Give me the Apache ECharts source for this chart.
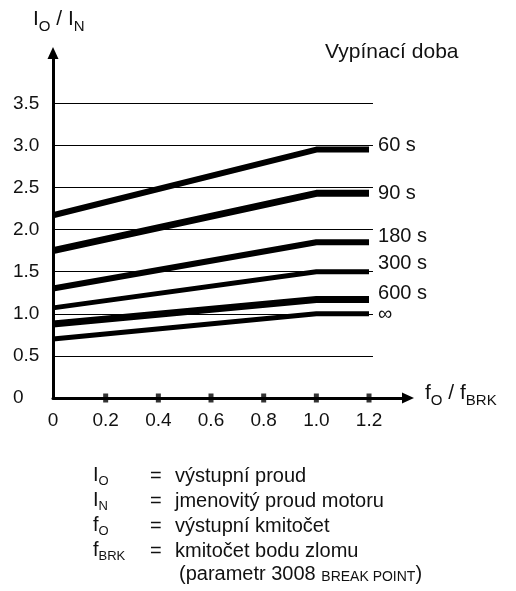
<!DOCTYPE html>
<html><head><meta charset="utf-8">
<script src="https://cdn.jsdelivr.net/npm/echarts@6/dist/echarts.min.js"></script>
<style>html,body{margin:0;padding:0;background:#fff}#c{width:516px;height:591px}</style>
</head><body><div id="c"></div>
<script>
// ---- data ----
const xValues = [0, 1.0, 1.2];
const seriesNames = ['60 s', '90 s', '180 s', '300 s', '600 s', '∞'];
const s60  = [2.17, 2.95, 2.95];
const s90  = [1.75, 2.43, 2.43];
const s180 = [1.30, 1.85, 1.85];
const s300 = [1.07, 1.50, 1.50];
const s600 = [0.88, 1.17, 1.17];
const sInf = [0.70, 1.00, 1.00];
const yTickLabels = ['0', '0.5', '1.0', '1.5', '2.0', '2.5', '3.0', '3.5'];
const xTickLabels = ['0', '0.2', '0.4', '0.6', '0.8', '1.0', '1.2'];
const gridLevels = [0.5, 1.0, 1.5, 2.0, 2.5, 3.0, 3.5];
const xTickMarks = [0.2, 0.4, 0.6, 0.8, 1.0, 1.2];
const gridEndX = 1.215;

// ---- styles ----
const FONT = "'Liberation Sans', Arial, sans-serif";
const allSeries = [s60, s90, s180, s300, s600, sInf];
const labelDy = [-4, 0, -6, -8, -6, 1];
const lineW = [6, 7, 6, 5, 7, 5];

const chart = echarts.init(document.getElementById('c'), null, {renderer: 'canvas'});

function tickFmt(labels, step) {
  return function (v) {
    const i = Math.round(v / step);
    if (Math.abs(v - i * step) > 1e-6 || i >= labels.length) return '';
    return labels[i];
  };
}

const series = [];
series.push({
  type: 'line', data: [], z: 1, silent: true,
  markLine: {
    silent: true, symbol: ['none', 'none'], animation: false,
    label: {show: false},
    lineStyle: {color: '#000', width: 1, type: 'solid'},
    data: gridLevels.map(v => [{coord: [0, v]}, {coord: [gridEndX, v]}])
  }
});
allSeries.forEach((arr, k) => {
  series.push({
    name: seriesNames[k], type: 'line', z: 3,
    data: xValues.map((x, i) => [x, arr[i]]),
    symbol: 'none', lineStyle: {color: '#000', width: lineW[k]},
    endLabel: {
      show: true, formatter: seriesNames[k], color: '#111',
      fontFamily: FONT, fontSize: 20, distance: 9, offset: [0, labelDy[k]]
    }
  });
});
series.push({
  type: 'scatter', z: 5, silent: true,
  data: xTickMarks.map(x => [x, 0]),
  symbol: 'rect', symbolSize: [5, 9], itemStyle: {color: '#000'}
});

const richMain = {fontFamily: FONT, fontSize: 21, lineHeight: 24, verticalAlign: 'top', fill: '#111'};
const richSub = {fontFamily: FONT, fontSize: 15, lineHeight: 15, padding: [10, 0, 0, 0], verticalAlign: 'top', fill: '#111'};
const legMain = {fontFamily: FONT, fontSize: 20, lineHeight: 22, verticalAlign: 'top', fill: '#111'};
const legSub = {fontFamily: FONT, fontSize: 13, lineHeight: 13, padding: [10, 0, 0, 0], verticalAlign: 'top', fill: '#111'};
const legSC = {fontFamily: FONT, fontSize: 14, lineHeight: 14, padding: [6, 0, 0, 0], verticalAlign: 'top', fill: '#111'};

function plain(x, y, text, size) {
  return {type: 'text', x: x, y: y, silent: true,
    style: {text: text, fill: '#111', font: (size || 20) + 'px ' + FONT, verticalAlign: 'middle', align: 'left'}};
}
function rich(x, y, text, r) {
  return {type: 'text', x: x, y: y, silent: true,
    style: {text: text, rich: r, verticalAlign: 'top', align: 'left'}};
}
const legR = {m: legMain, s: legSub, sc: legSC};
const legendRows = [476, 501, 526, 551, 575];

const graphic = [
  rich(33, 9, '{m|I}{s|O}{m| / I}{s|N}', {m: richMain, s: richSub}),
  rich(425, 383, '{m|f}{s|O}{m| / f}{s|BRK}', {m: richMain, s: richSub}),
  plain(325, 52, 'Vypínací doba', 21),
  rich(93, legendRows[0] - 11, '{m|I}{s|O}', legR),
  rich(93, legendRows[1] - 11, '{m|I}{s|N}', legR),
  rich(93, legendRows[2] - 11, '{m|f}{s|O}', legR),
  rich(93, legendRows[3] - 11, '{m|f}{s|BRK}', legR),
  plain(150, legendRows[0], '='),
  plain(150, legendRows[1], '='),
  plain(150, legendRows[2], '='),
  plain(150, legendRows[3], '='),
  plain(175, legendRows[0], 'výstupní proud'),
  plain(175, legendRows[1], 'jmenovitý proud motoru'),
  plain(175, legendRows[2], 'výstupní kmitočet'),
  plain(175, legendRows[3], 'kmitočet bodu zlomu'),
  rich(179, legendRows[4] - 11, '{m|(parametr 3008 }{sc|BREAK POINT}{m|)}', legR)
];

chart.setOption({
  animation: false,
  backgroundColor: '#fff',
  grid: {left: 53, right: 108, top: 53, bottom: 193, containLabel: false},
  xAxis: {
    type: 'value', min: 0, max: 1.348, interval: 0.2,
    axisLine: {show: true, symbol: ['none', 'triangle'], symbolSize: [11, 12],
      lineStyle: {color: '#000', width: 3}},
    axisTick: {show: false}, splitLine: {show: false},
    axisLabel: {color: '#111', fontFamily: FONT, fontSize: 19, margin: 13,
      formatter: tickFmt(xTickLabels, 0.2)}
  },
  yAxis: {
    type: 'value', min: 0, max: 4.097, interval: 0.5,
    axisLine: {show: true, symbol: ['none', 'triangle'], symbolSize: [11, 12],
      lineStyle: {color: '#000', width: 3}},
    axisTick: {show: false}, splitLine: {show: false},
    axisLabel: {color: '#111', fontFamily: FONT, fontSize: 19, margin: 40, align: 'left',
      formatter: tickFmt(yTickLabels, 0.5)}
  },
  series: series,
  graphic: graphic
});
</script></body></html>
